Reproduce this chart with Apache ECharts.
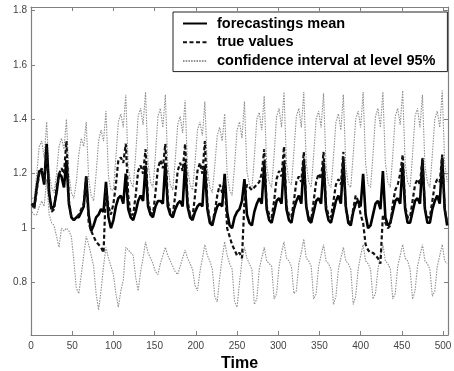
<!DOCTYPE html>
<html><head><meta charset="utf-8">
<script src="https://cdn.jsdelivr.net/npm/echarts@6/dist/echarts.min.js"></script>
<style>html,body{margin:0;padding:0;background:#fff}#c{width:454px;height:371px}</style>
</head><body><div id="c"></div><script>
// sample times: every 3 time units from 1 to 505
const time = Array.from({length: 169}, (_, i) => 1 + 3 * i);

const meanValues = [
1.09,1.08,1.15,1.21,1.21,1.16,1.31,1.13,
1.07,1.08,1.13,1.20,1.19,1.15,1.25,1.09,
1.04,1.03,1.04,1.04,1.06,1.08,1.19,1.05,
0.99,1.01,1.04,1.05,1.07,1.06,1.17,1.04,
1.00,1.03,1.08,1.11,1.12,1.09,1.20,1.07,
1.04,1.03,1.06,1.10,1.12,1.10,1.23,1.08,
1.05,1.04,1.08,1.10,1.10,1.09,1.24,1.08,
1.05,1.04,1.07,1.09,1.10,1.08,1.24,1.08,
1.04,1.03,1.06,1.08,1.09,1.08,1.23,1.07,
1.02,1.01,1.05,1.08,1.09,1.08,1.20,1.06,
1.01,1.00,1.04,1.06,1.07,1.10,1.18,1.05,
1.02,1.01,1.06,1.09,1.11,1.09,1.24,1.07,
1.03,1.02,1.06,1.10,1.11,1.09,1.24,1.07,
1.03,1.02,1.07,1.10,1.12,1.09,1.25,1.08,
1.03,1.02,1.06,1.10,1.11,1.09,1.24,1.07,
1.03,1.02,1.06,1.10,1.12,1.09,1.25,1.08,
1.02,1.01,1.06,1.09,1.10,1.08,1.20,1.05,
1.00,1.01,1.05,1.09,1.10,1.07,1.21,1.04,
1.01,1.02,1.06,1.10,1.11,1.09,1.24,1.07,
1.02,1.02,1.06,1.10,1.11,1.09,1.25,1.07,
1.02,1.02,1.07,1.10,1.12,1.09,1.26,1.07,
1.01];

const trueValues = [
1.09,1.07,1.14,1.20,1.22,1.17,1.30,1.12,
1.06,1.07,1.15,1.20,1.22,1.20,1.32,1.10,
1.04,1.03,1.04,1.05,1.07,1.09,1.19,1.02,
0.99,0.97,0.95,0.94,0.93,0.91,1.15,1.08,
1.05,1.09,1.16,1.25,1.26,1.24,1.31,1.12,
1.05,1.05,1.12,1.21,1.23,1.20,1.29,1.10,
1.06,1.05,1.13,1.22,1.25,1.22,1.31,1.10,
1.06,1.05,1.12,1.21,1.24,1.21,1.31,1.10,
1.05,1.04,1.12,1.21,1.24,1.20,1.32,1.09,
1.03,1.02,1.06,1.12,1.16,1.13,1.18,1.00,
0.97,0.94,0.92,0.90,0.91,0.89,1.10,1.16,
1.15,1.14,1.15,1.16,1.17,1.20,1.29,1.08,
1.05,1.04,1.10,1.18,1.21,1.19,1.30,1.08,
1.05,1.04,1.10,1.17,1.19,1.17,1.28,1.08,
1.04,1.03,1.10,1.17,1.20,1.18,1.28,1.08,
1.05,1.04,1.10,1.16,1.18,1.16,1.28,1.07,
1.03,1.02,1.07,1.12,1.10,1.05,1.02,0.94,
0.92,0.91,0.91,0.90,0.89,0.87,1.05,1.02,
1.00,1.01,1.09,1.14,1.16,1.20,1.27,1.08,
1.04,1.04,1.10,1.16,1.18,1.16,1.26,1.07,
1.04,1.04,1.10,1.16,1.18,1.17,1.27,1.07,
1.02];

const upperValues = [
1.11,1.11,1.20,1.30,1.32,1.26,1.39,1.20,
1.15,1.13,1.20,1.30,1.33,1.29,1.40,1.20,
1.13,1.11,1.17,1.27,1.33,1.30,1.39,1.18,
1.12,1.10,1.20,1.32,1.36,1.32,1.43,1.19,
1.14,1.14,1.26,1.39,1.42,1.37,1.49,1.22,
1.17,1.15,1.27,1.41,1.44,1.38,1.50,1.24,
1.17,1.15,1.27,1.41,1.44,1.37,1.49,1.23,
1.16,1.14,1.25,1.38,1.41,1.35,1.47,1.22,
1.16,1.14,1.24,1.36,1.39,1.34,1.465,1.22,
1.15,1.13,1.23,1.34,1.37,1.32,1.42,1.20,
1.14,1.12,1.23,1.36,1.39,1.33,1.465,1.21,
1.16,1.14,1.26,1.40,1.425,1.36,1.485,1.23,
1.17,1.15,1.27,1.41,1.44,1.37,1.50,1.24,
1.17,1.16,1.28,1.41,1.44,1.37,1.50,1.24,
1.17,1.15,1.27,1.40,1.43,1.37,1.495,1.23,
1.16,1.15,1.26,1.39,1.42,1.36,1.49,1.23,
1.16,1.15,1.27,1.40,1.43,1.37,1.50,1.24,
1.16,1.15,1.27,1.41,1.44,1.37,1.50,1.24,
1.17,1.15,1.27,1.41,1.44,1.38,1.505,1.24,
1.17,1.15,1.27,1.41,1.44,1.37,1.49,1.23,
1.17,1.15,1.27,1.40,1.43,1.37,1.505,1.24,
1.17];

const lowerValues = [
1.06,1.05,1.05,1.08,1.10,1.08,1.18,1.05,
1.02,1.01,0.97,0.93,1.00,0.99,1.00,0.99,
0.97,0.88,0.78,0.76,0.83,0.90,0.97,0.94,
0.90,0.86,0.76,0.70,0.77,0.86,0.93,0.89,
0.86,0.83,0.76,0.71,0.77,0.81,0.93,0.92,
0.91,0.90,0.82,0.77,0.84,0.89,0.95,0.91,
0.89,0.87,0.84,0.83,0.87,0.90,0.93,0.90,
0.88,0.86,0.84,0.83,0.86,0.89,0.92,0.89,
0.87,0.85,0.79,0.77,0.84,0.89,0.94,0.90,
0.88,0.85,0.75,0.73,0.82,0.89,0.95,0.90,
0.87,0.85,0.73,0.71,0.80,0.88,0.93,0.89,
0.87,0.85,0.72,0.74,0.85,0.89,0.93,0.88,
0.87,0.86,0.74,0.76,0.86,0.91,0.95,0.89,
0.88,0.86,0.76,0.77,0.87,0.91,0.96,0.89,
0.88,0.86,0.74,0.76,0.86,0.90,0.94,0.88,
0.87,0.85,0.72,0.75,0.85,0.89,0.93,0.88,
0.87,0.85,0.72,0.75,0.85,0.90,0.94,0.88,
0.87,0.85,0.74,0.76,0.85,0.90,0.94,0.88,
0.87,0.85,0.74,0.76,0.86,0.90,0.94,0.89,
0.88,0.85,0.74,0.77,0.86,0.90,0.94,0.88,
0.87,0.85,0.75,0.77,0.86,0.90,0.94,0.88,
0.87];

const xTicks = [0, 50, 100, 150, 200, 250, 300, 350, 400, 450, 500];
const yTicks = [0.8, 1, 1.2, 1.4, 1.6, 1.8];

const names = ['forecastings mean', 'true values', 'confidence interval at level 95%'];
const pairs = v => time.map((t, i) => [t, v[i]]);
const axisColor = '#808080';
const ciColor = '#8f8f8f';
const font = "'Liberation Sans', Arial, sans-serif";

const chart = echarts.init(document.getElementById('c'), null, {renderer: 'canvas'});
chart.setOption({
  animation: false,
  backgroundColor: '#fff',
  grid: {left: 31, right: 6, top: 7, bottom: 36, containLabel: false, outerBoundsMode: 'none'},
  legend: {
    orient: 'vertical', left: 173, top: 12,
    padding: [4, 12, 3, 9], itemWidth: 24, itemHeight: 14, itemGap: 3.8,
    backgroundColor: '#fff', borderColor: '#222', borderWidth: 1,
    itemStyle: {opacity: 0},
    textStyle: {fontWeight: 'bold', fontSize: 14.5, lineHeight: 14, color: '#000', fontFamily: font, padding: [0, 0, 0, 5]},
    data: names
  },
  xAxis: [{
    type: 'value', min: 0, max: 506,
    axisLine: {onZero: false, lineStyle: {color: axisColor, width: 1.2}},
    axisTick: {inside: true, length: 4, customValues: xTicks, lineStyle: {color: axisColor}},
    axisLabel: {customValues: xTicks, color: '#444', fontSize: 10, margin: 6, fontFamily: font},
    splitLine: {show: false},
    name: 'Time', nameLocation: 'middle', nameGap: 18,
    nameTextStyle: {fontWeight: 'bold', fontSize: 16, color: '#000', fontFamily: font}
  }, {
    type: 'value', position: 'top', min: 0, max: 506,
    axisLine: {onZero: false, lineStyle: {color: axisColor, width: 1.2}},
    axisTick: {inside: true, length: 4, customValues: xTicks, lineStyle: {color: axisColor}},
    axisLabel: {show: false}, splitLine: {show: false}
  }],
  yAxis: [{
    type: 'value', min: 0.608, max: 1.812,
    axisLine: {show: true, onZero: false, lineStyle: {color: axisColor, width: 1.2}},
    axisTick: {show: true, inside: true, length: 4, customValues: yTicks, lineStyle: {color: axisColor}},
    axisLabel: {customValues: yTicks, color: '#444', fontSize: 10, margin: 4, fontFamily: font},
    splitLine: {show: false}
  }, {
    type: 'value', position: 'right', min: 0.608, max: 1.812,
    axisLine: {show: true, onZero: false, lineStyle: {color: axisColor, width: 1.2}},
    axisTick: {show: true, inside: true, length: 4, customValues: yTicks, lineStyle: {color: axisColor}},
    axisLabel: {show: false}, splitLine: {show: false}
  }],
  series: [
    {name: names[2], type: 'line', data: pairs(upperValues), symbol: 'none', z: 1,
     itemStyle: {color: ciColor}, lineStyle: {color: ciColor, width: 1.1, type: [1.5, 1.2]}},
    {name: names[2], type: 'line', data: pairs(lowerValues), symbol: 'none', z: 1,
     itemStyle: {color: ciColor}, lineStyle: {color: ciColor, width: 1.1, type: [1.5, 1.2]}},
    {name: names[0], type: 'line', data: pairs(meanValues), symbol: 'none', z: 2,
     itemStyle: {color: '#000'}, lineStyle: {color: '#000', width: 2.6}},
    {name: names[1], type: 'line', data: pairs(trueValues), symbol: 'none', z: 3,
     itemStyle: {color: '#111'}, lineStyle: {color: '#111', width: 2.2, type: [4, 2.5]}}
  ]
});
</script></body></html>
